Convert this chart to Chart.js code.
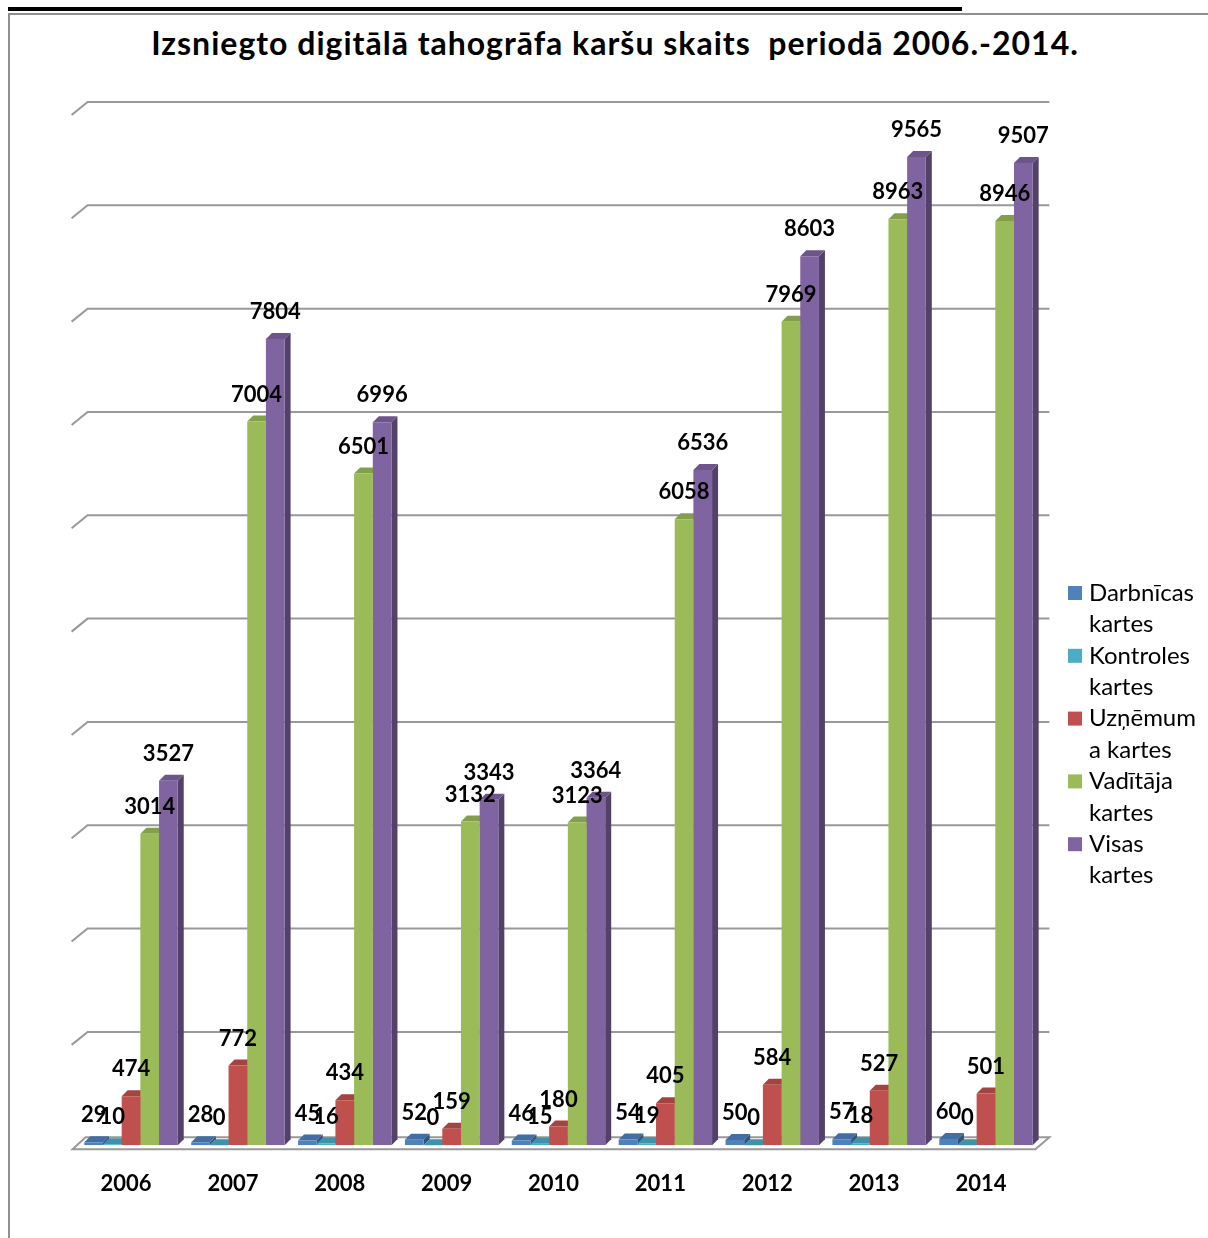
<!DOCTYPE html>
<html>
<head>
<meta charset="utf-8">
<script src="https://cdn.jsdelivr.net/npm/chart.js@4.4.1/dist/chart.umd.min.js"></script>
<style>
  html, body { margin: 0; padding: 0; background: #fff; }
  body { width: 1208px; height: 1238px; position: relative; overflow: hidden; }
  #rule { position: absolute; left: 8px; top: 7px; width: 954px; height: 4px; background: #000; }
  #frame { position: absolute; left: 8px; top: 13px; width: 1300px; height: 1300px;
           border-left: 2px solid #8f8f8f; border-top: 2px solid #8f8f8f; }
  #title { position: absolute; left: 0; top: 24px; width: 1230px; text-align: center;
           font: 700 32px Lato, sans-serif; letter-spacing: 1px; line-height: 38px; color: #000; }
  #wrap { position: absolute; left: 0; top: 0; width: 1208px; height: 1238px; }
</style>
</head>
<body>
<div id="rule"></div>
<div id="frame"></div>
<div id="title">Izsniegto digitālā tahogrāfa karšu skaits&nbsp; periodā 2006.-2014.</div>
<div id="wrap"><canvas id="chart"></canvas></div>
<script>
const years = ['2006', '2007', '2008', '2009', '2010', '2011', '2012', '2013', '2014'];
const darbnicas = [29, 28, 45, 52, 46, 54, 50, 57, 60];
const kontroles = [10, 0, 16, 0, 15, 19, 0, 18, 0];
const uznemuma = [474, 772, 434, 159, 180, 405, 584, 527, 501];
const vaditaja = [3014, 7004, 6501, 3132, 3123, 6058, 7969, 8963, 8946];
const visas = [3527, 7804, 6996, 3343, 3364, 6536, 8603, 9565, 9507];

const seriesNames = ['Darbnīcas kartes', 'Kontroles kartes', 'Uzņēmuma kartes', 'Vadītāja kartes', 'Visas kartes'];
const legendLines = [['Darbnīcas', 'kartes'], ['Kontroles', 'kartes'], ['Uzņēmum', 'a kartes'], ['Vadītāja', 'kartes'], ['Visas', 'kartes']];
const colors = ['#4F81BD', '#4BACC6', '#C0504D', '#9BBB59', '#8064A2'];

const depth = { dx: 6, dy: -6 };

function shade(hex, f) {
  const n = parseInt(hex.slice(1), 16);
  const r = Math.round(((n >> 16) & 255) * f);
  const g = Math.round(((n >> 8) & 255) * f);
  const b = Math.round((n & 255) * f);
  return 'rgb(' + r + ',' + g + ',' + b + ')';
}

// back wall gridlines, floor and bar depth faces (behind the bar fronts)
const wall3d = {
  id: 'wall3d',
  beforeDatasetsDraw(chart) {
    const { ctx, chartArea: a, scales: { y } } = chart;
    ctx.save();
    ctx.strokeStyle = '#999999';
    ctx.lineWidth = 2;
    y.ticks.forEach(t => {
      if (t.value === 0) return;
      const py = y.getPixelForValue(t.value);
      ctx.beginPath();
      ctx.moveTo(a.left - 6, py + 3);
      ctx.lineTo(a.left + 10, py - 10);
      ctx.lineTo(a.right + 10, py - 10);
      ctx.stroke();
    });

    const y0 = y.getPixelForValue(0);
    ctx.fillStyle = '#fff';
    ctx.beginPath();
    ctx.moveTo(a.left - 5, y0 + 4);
    ctx.lineTo(a.left + 8, y0 - 8);
    ctx.lineTo(a.right + 10, y0 - 8);
    ctx.lineTo(a.right - 4, y0 + 4);
    ctx.closePath();
    ctx.fill();
    ctx.stroke();

    years.forEach((yr, i) => {
      chart.data.datasets.forEach((ds, d) => {
        const el = chart.getDatasetMeta(d).data[i];
        const { x, y: top, base, width } = el.getProps(['x', 'y', 'base', 'width'], true);
        const l = x - width / 2, r = x + width / 2;
        ctx.fillStyle = shade(colors[d], 0.65);
        ctx.beginPath();
        ctx.moveTo(r, top);
        ctx.lineTo(r + depth.dx, top + depth.dy);
        ctx.lineTo(r + depth.dx, base + depth.dy);
        ctx.lineTo(r, base);
        ctx.closePath();
        ctx.fill();
        ctx.fillStyle = shade(colors[d], 0.85);
        ctx.beginPath();
        ctx.moveTo(l, top);
        ctx.lineTo(l + depth.dx, top + depth.dy);
        ctx.lineTo(r + depth.dx, top + depth.dy);
        ctx.lineTo(r, top);
        ctx.closePath();
        ctx.fill();
      });
    });
    ctx.restore();
  },
  afterDatasetsDraw(chart) {
    const ctx = chart.ctx;
    ctx.save();
    ctx.font = '700 22px Lato';
    ctx.fillStyle = '#000';
    ctx.textAlign = 'center';
    ctx.textBaseline = 'middle';
    chart.data.datasets.forEach((ds, d) => {
      chart.getDatasetMeta(d).data.forEach((el, i) => {
        ctx.fillText(String(ds.data[i]), el.x, el.y - 27);
      });
    });
    ctx.restore();
  },
  afterDraw(chart) {
    const ctx = chart.ctx;
    ctx.save();
    ctx.font = '400 24px Lato';
    ctx.textBaseline = 'middle';
    ctx.textAlign = 'left';
    legendLines.forEach((lines, d) => {
      const yTop = 593 + d * 62.8;
      ctx.fillStyle = colors[d];
      ctx.fillRect(1068, yTop - 7, 14, 14);
      ctx.fillStyle = '#000';
      lines.forEach((ln, k) => ctx.fillText(ln, 1089, yTop + k * 31.4));
    });
    ctx.restore();
  }
};

new Chart(document.getElementById('chart'), {
  type: 'bar',
  data: {
    labels: years,
    datasets: [darbnicas, kontroles, uznemuma, vaditaja, visas].map((vals, d) => ({
      label: seriesNames[d],
      data: vals,
      backgroundColor: colors[d],
      borderWidth: 0,
      categoryPercentage: 0.874,
      barPercentage: 1
    }))
  },
  options: {
    responsive: true,
    maintainAspectRatio: false,
    animation: false,
    layout: { padding: { left: 77.6, right: 168.6, top: 112, bottom: 14.4 } },
    plugins: {
      legend: { display: false },
      title: { display: false },
      tooltip: { enabled: false }
    },
    scales: {
      x: {
        grid: { display: false, drawTicks: false },
        border: { display: false },
        ticks: { color: '#000', font: { family: 'Lato', size: 22, weight: '700' }, padding: 26, labelOffset: -5, maxRotation: 0 }
      },
      y: {
        display: false,
        min: 0,
        max: 10000,
        ticks: { stepSize: 1000 }
      }
    }
  },
  plugins: [wall3d]
});
</script>
</body>
</html>
